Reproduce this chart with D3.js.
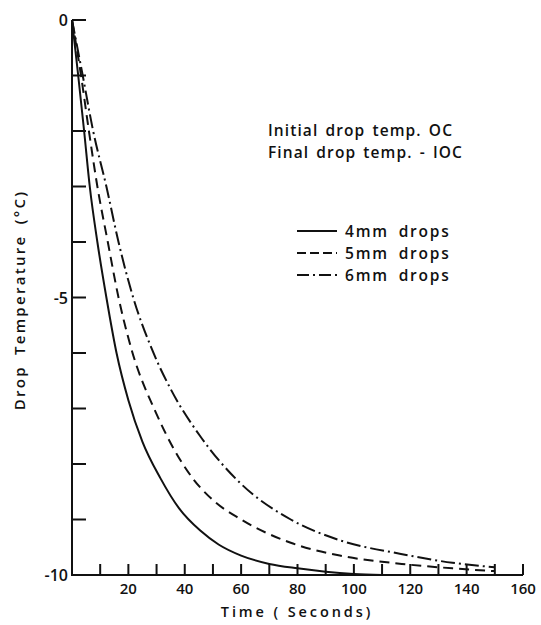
<!DOCTYPE html>
<html>
<head>
<meta charset="utf-8">
<script src="https://cdn.jsdelivr.net/npm/d3@7"></script>
<style>
  body { margin: 0; background: #fff; }
  svg { display: block; }
  text { font-family: "Open Sans", sans-serif; font-weight: 600; fill: #111; }
</style>
</head>
<body>
<svg id="chart" width="541" height="625"></svg>
<script>
const drops4mm = [
  [0, 0], [2.2, -1], [4.3, -2], [6.3, -3], [9, -4], [12.2, -5], [15.8, -6],
  [20, -6.85], [25, -7.6], [31.3, -8.25], [38, -8.8], [45.5, -9.2], [52, -9.45],
  [60, -9.65], [70, -9.8], [80, -9.88], [90, -9.94], [100, -9.98], [110, -10]
];
const drops5mm = [
  [0, 0], [3.2, -1], [6, -2], [9, -3], [12.7, -4], [16.5, -5], [21.2, -5.95],
  [30, -7.1], [42.7, -8.25], [50, -8.65], [60, -9.0], [77.6, -9.42], [95, -9.65],
  [117, -9.8], [135, -9.88], [150, -9.93]
];
const drops6mm = [
  [0, 0], [3.8, -1], [7.5, -2], [12.2, -3], [16.5, -4], [21.7, -5], [28.5, -5.95],
  [35, -6.65], [45.5, -7.5], [59.8, -8.35], [77.6, -9.0], [95.4, -9.38],
  [116.7, -9.62], [135, -9.78], [150, -9.86]
];

const seriesNames = ['4mm drops', '5mm drops', '6mm drops'];
const xTicks = d3.range(10, 161, 10);
const xTickLabels = [20, 40, 60, 80, 100, 120, 140, 160];
const yTicks = d3.range(0, -10, -1);
const yTickLabels = [0, -5, -10];
const notes = ['Initial drop temp. OC', 'Final drop temp. - IOC'];

const svg = d3.select('#chart');
const x = d3.scaleLinear().domain([0, 160]).range([72, 523]);
const y = d3.scaleLinear().domain([0, -10]).range([20, 575]);

const ink = '#111';

// axes frame (left + bottom)
svg.append('path')
  .attr('d', `M${x(0)},${y(0)} L${x(0)},${y(-10)} L${x(160)},${y(-10)}`)
  .attr('fill', 'none').attr('stroke', ink).attr('stroke-width', 2);

// y ticks point inward
svg.append('g').selectAll('line').data(yTicks).join('line')
  .attr('x1', x(0)).attr('x2', x(0) + 14)
  .attr('y1', d => y(d)).attr('y2', d => y(d))
  .attr('stroke', ink).attr('stroke-width', 2);

// x ticks point up
svg.append('g').selectAll('line').data(xTicks).join('line')
  .attr('x1', d => x(d)).attr('x2', d => x(d))
  .attr('y1', y(-10)).attr('y2', y(-10) - 11)
  .attr('stroke', ink).attr('stroke-width', 2);

svg.append('g').selectAll('text').data(yTickLabels).join('text')
  .attr('x', x(0) - 4).attr('y', d => y(d) + 6)
  .attr('text-anchor', 'end').attr('font-size', 16)
  .text(d => d === 0 ? '0' : '-' + Math.abs(d));

svg.append('g').selectAll('text').data(xTickLabels).join('text')
  .attr('x', d => x(d)).attr('y', y(-10) + 19)
  .attr('text-anchor', 'middle').attr('font-size', 15)
  .text(d => d);

svg.append('text')
  .attr('x', 297).attr('y', 617)
  .attr('text-anchor', 'middle').attr('font-size', 14.5)
  .attr('letter-spacing', 2.9)
  .text('Time ( Seconds)');

svg.append('text')
  .attr('transform', 'translate(25,300) rotate(-90)')
  .attr('text-anchor', 'middle').attr('font-size', 15)
  .attr('letter-spacing', 2.3)
  .attr('word-spacing', 4)
  .text('Drop Temperature (°C)');

// curves
const styles = ['none', '10,6', '14,4,2,4'];
const line = d3.line().x(d => x(d[0])).y(d => y(d[1])).curve(d3.curveMonotoneX);
[drops4mm, drops5mm, drops6mm].forEach((s, i) => {
  svg.append('path').datum(s)
    .attr('d', line)
    .attr('fill', 'none').attr('stroke', ink).attr('stroke-width', 2)
    .attr('stroke-dasharray', styles[i]);
});

// notes
svg.append('g').selectAll('text').data(notes).join('text')
  .attr('x', 268).attr('y', (d, i) => 136 + i * 22)
  .attr('font-size', 15.5)
  .attr('letter-spacing', 1.1)
  .attr('word-spacing', 2)
  .text(d => d);

// legend
const lg = svg.append('g').attr('transform', 'translate(297,231)');
seriesNames.forEach((n, i) => {
  const row = lg.append('g').attr('transform', `translate(0,${i * 22})`);
  row.append('line').attr('x1', 0).attr('x2', 40).attr('y1', 0).attr('y2', 0)
    .attr('stroke', ink).attr('stroke-width', 2)
    .attr('stroke-dasharray', i === 0 ? 'none' : i === 1 ? '9,4' : '12,4,2,4');
  row.append('text').attr('x', 48).attr('y', 6).attr('font-size', 15.5)
    .attr('letter-spacing', 1.8).attr('word-spacing', 4).text(n);
});
</script>
</body>
</html>
